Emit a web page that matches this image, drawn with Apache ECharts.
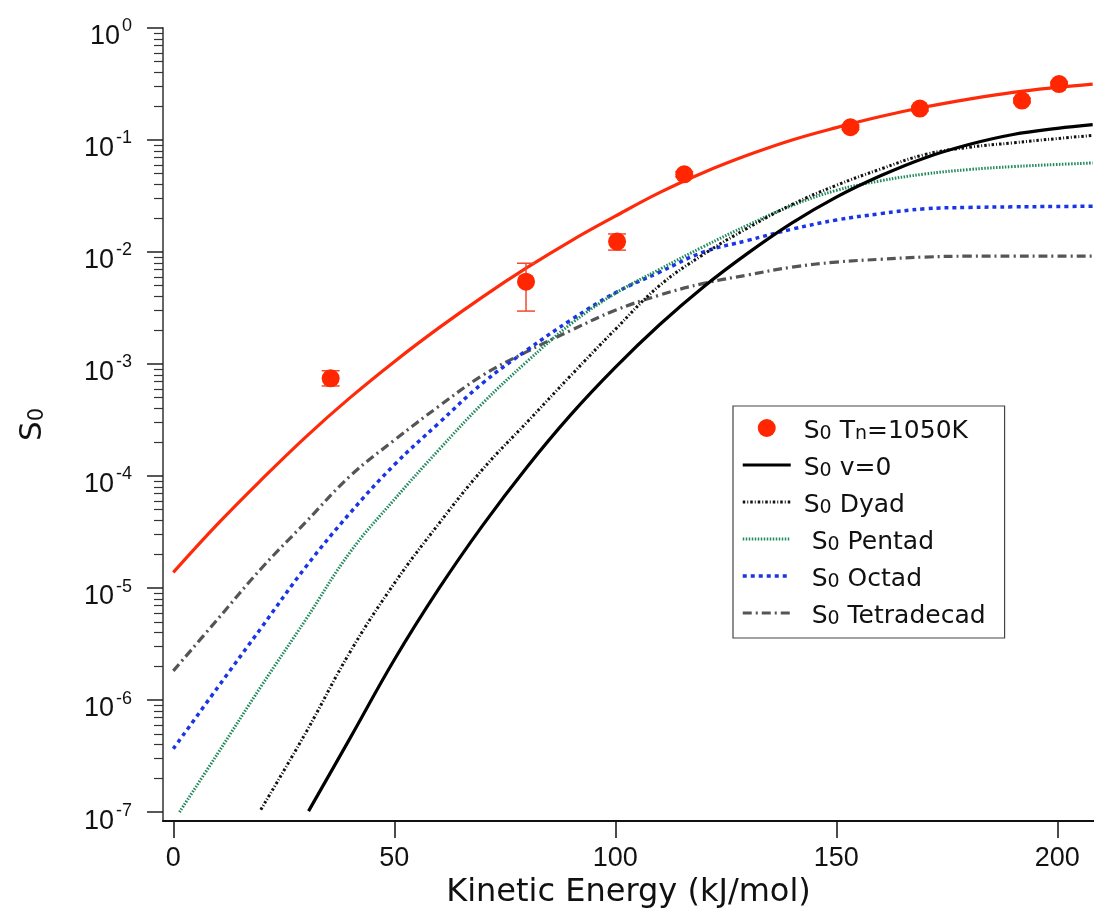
<!DOCTYPE html>
<html>
<head>
<meta charset="utf-8">
<title>S0 vs Kinetic Energy</title>
<script src="https://cdn.jsdelivr.net/npm/echarts@6/dist/echarts.min.js"></script>
<style>
  html, body { margin: 0; padding: 0; background: #fff; }
  #chart { width: 1094px; height: 919px; }
</style>
</head>
<body>
<div id="chart"></div>
<script>
// Data
var energyFull = [0, 10, 20, 30, 40, 50, 60, 70, 80, 90, 100, 110, 120, 130, 140, 150, 160, 170, 180, 190, 200, 208];
var energyPentad = [1.4, 10, 20, 30, 40, 50, 60, 70, 80, 90, 100, 110, 120, 130, 140, 150, 160, 170, 180, 190, 200, 208];
var energyDyad = [19.8, 30, 40, 50, 60, 70, 80, 90, 100, 110, 120, 130, 140, 150, 160, 170, 180, 190, 200, 208];
var energyV0 = [30.6, 40, 50, 60, 70, 80, 90, 100, 110, 120, 130, 140, 150, 160, 170, 180, 190, 200, 208];

var s0Fit = [1.38e-5, 3.72e-5, 9.33e-5, 2.24e-4, 5.01e-4, 1.05e-3, 2.09e-3, 3.98e-3, 7.24e-3, 1.26e-2, 2.09e-2,
  3.39e-2, 5.13e-2, 7.33e-2, 0.100, 0.129, 0.162, 0.197, 0.232, 0.266, 0.295, 0.316];
var s0V0 = [1.02e-7, 4.57e-7, 2.29e-6, 9.77e-6, 3.63e-5, 1.20e-4, 3.55e-4, 9.33e-4, 2.24e-3, 4.90e-3,
  9.77e-3, 1.82e-2, 3.09e-2, 4.79e-2, 6.92e-2, 9.12e-2, 0.112, 0.127, 0.137];
var s0Dyad = [1.05e-7, 5.13e-7, 2.69e-6, 1.10e-5, 3.72e-5, 1.15e-4, 3.02e-4, 7.94e-4, 2.04e-3, 5.01e-3,
  9.55e-3, 1.64e-2, 2.66e-2, 3.94e-2, 5.50e-2, 7.41e-2, 8.61e-2, 9.44e-2, 0.103, 0.110];
var s0Pentad = [1.0e-7, 3.31e-7, 1.35e-6, 5.25e-6, 2.09e-5, 6.17e-5, 1.70e-4, 4.47e-4, 1.05e-3, 2.29e-3, 4.27e-3,
  7.0e-3, 1.12e-2, 1.74e-2, 2.60e-2, 3.55e-2, 4.32e-2, 4.97e-2, 5.45e-2, 5.79e-2, 6.05e-2, 6.24e-2];
var s0Octad = [3.67e-7, 1.29e-6, 4.47e-6, 1.55e-5, 4.68e-5, 1.26e-4, 2.95e-4, 6.76e-4, 1.33e-3, 2.48e-3, 4.32e-3,
  6.61e-3, 1.0e-2, 1.27e-2, 1.60e-2, 1.93e-2, 2.20e-2, 2.43e-2, 2.50e-2, 2.53e-2, 2.55e-2, 2.56e-2];
var s0Tetradecad = [1.82e-6, 5.25e-6, 1.51e-5, 3.89e-5, 1.0e-4, 2.09e-4, 4.17e-4, 7.94e-4, 1.29e-3, 2.0e-3, 3.02e-3,
  4.12e-3, 5.25e-3, 6.24e-3, 7.33e-3, 8.13e-3, 8.61e-3, 9.02e-3, 9.18e-3, 9.20e-3, 9.20e-3, 9.20e-3];

// measured points, Tn = 1050 K
var energyExp = [35.6, 79.8, 100.4, 115.6, 153.2, 168.9, 192.0, 200.4];
var s0Exp = [7.45e-4, 5.43e-3, 1.24e-2, 4.94e-2, 0.130, 0.191, 0.225, 0.316];
var s0ErrLow = [6.37e-4, 2.97e-3, 1.04e-2, 4.7e-2, 0.124, 0.182, 0.215, 0.302];
var s0ErrHigh = [8.71e-4, 7.94e-3, 1.45e-2, 5.2e-2, 0.136, 0.200, 0.236, 0.330];

var xTicks = [0, 50, 100, 150, 200];
var yTicks = [1e-7, 1e-6, 1e-5, 1e-4, 1e-3, 1e-2, 1e-1, 1];

var FONT = 'DejaVu Sans';
var NUM_FONT = 'Liberation Sans';

function pairs(xs, ys) {
  return xs.map(function(x, i) { return [x, ys[i]]; });
}

// minor log ticks 2..9 of every decade
var yMinor = [];
yTicks.slice(0, -1).forEach(function(d) {
  for (var k = 2; k <= 9; k++) yMinor.push(+(d * k).toPrecision(3));
});

var legendText = {
  'S0 Tn=1050K': '{p|}{m|S}{s|0}{m| T}{s|n}{m|=1050K}',
  'S0 v=0': '{p|}{m|S}{s|0}{m| v=0}',
  'S0 Dyad': '{p|}{m|S}{s|0}{m| Dyad}',
  'S0 Pentad': '{p|}{m| S}{s|0}{m| Pentad}',
  'S0 Octad': '{p|}{m| S}{s|0}{m| Octad}',
  'S0 Tetradecad': '{p|}{m| S}{s|0}{m| Tetradecad}'
};

var chart = echarts.init(document.getElementById('chart'));

function lineSeries(name, xs, ys, style, z) {
  return {
    name: name,
    type: 'line',
    data: pairs(xs, ys),
    symbol: 'none',
    smooth: 0.4,
    z: z || 2,
    // transparent item colour keeps the legend icon a plain line
    itemStyle: { color: 'rgba(0,0,0,0)' },
    lineStyle: style
  };
}

chart.setOption({
  animation: false,
  backgroundColor: '#fff',
  textStyle: { fontFamily: FONT },
  grid: { left: 163, right: 0, top: 28, bottom: 98, containLabel: false },
  xAxis: {
    type: 'value',
    min: -2.33,
    max: 208.3,
    name: 'Kinetic Energy (kJ/mol)',
    nameLocation: 'middle',
    nameGap: 55,
    nameTextStyle: { fontFamily: FONT, fontSize: 32, color: '#111' },
    axisLine: { show: true, onZero: false, lineStyle: { color: '#111', width: 2 } },
    axisTick: { show: true, length: 17, customValues: xTicks, lineStyle: { color: '#111', width: 1.5 } },
    axisLabel: { customValues: xTicks, margin: 24, fontFamily: NUM_FONT, fontSize: 27, color: '#111' },
    splitLine: { show: false }
  },
  yAxis: [{
    type: 'log',
    logBase: 10,
    min: 8.32e-8,
    max: 1,
    name: '{m|S}{s|0}',
    nameLocation: 'middle',
    nameRotate: 90,
    nameGap: 115,
    nameTextStyle: {
      rich: {
        m: { fontFamily: FONT, fontSize: 31, color: '#111', lineHeight: 36, verticalAlign: 'bottom' },
        s: { fontFamily: FONT, fontSize: 21, color: '#111', lineHeight: 21, padding: [14, 0, 0, 0], verticalAlign: 'bottom' }
      }
    },
    axisLine: { show: true, onZero: false, lineStyle: { color: '#666', width: 2 } },
    axisTick: { show: true, length: 16, customValues: yTicks, lineStyle: { color: '#222', width: 1.5 } },
    axisLabel: {
      customValues: yTicks,
      margin: 31,
      padding: [18, 0, 0, 0],
      formatter: function(v) {
        var e = Math.round(Math.log(v) / Math.LN10);
        return '{b|10}{s|' + e + '}';
      },
      rich: {
        b: { fontFamily: NUM_FONT, fontSize: 27, color: '#111', lineHeight: 27, padding: [14, 0, 0, 0], verticalAlign: 'bottom' },
        s: { fontFamily: NUM_FONT, fontSize: 18, color: '#111', lineHeight: 18, padding: [0, 0, 15, 2], verticalAlign: 'bottom' }
      }
    },
    splitLine: { show: false },
    minorTick: { show: false }
  }, {
    // second axis only carries the minor ticks
    type: 'log',
    logBase: 10,
    min: 8.32e-8,
    max: 1,
    position: 'left',
    axisLine: { show: false, onZero: false },
    axisTick: { show: true, length: 9, customValues: yMinor, lineStyle: { color: '#333', width: 1.2 } },
    axisLabel: { show: false },
    splitLine: { show: false }
  }],
  legend: {
    data: ['S0 Tn=1050K', 'S0 v=0', 'S0 Dyad', 'S0 Pentad', 'S0 Octad', 'S0 Tetradecad'],
    orient: 'vertical',
    left: 733,
    top: 406,
    itemWidth: 48,
    itemHeight: 18,
    itemGap: 5,
    padding: [6, 19, 9, 8],
    borderColor: '#444',
    borderWidth: 1.2,
    selectedMode: false,
    lineStyle: { width: 'inherit' },
    formatter: function(name) { return legendText[name]; },
    textStyle: {
      rich: {
        p: { width: 8 },
        m: { fontFamily: FONT, fontSize: 25, color: '#111', lineHeight: 32, verticalAlign: 'bottom' },
        s: { fontFamily: FONT, fontSize: 19, color: '#111', lineHeight: 19, padding: [13, 0, 0, 0], verticalAlign: 'bottom' }
      }
    }
  },
  series: [
    lineSeries('S0 Tetradecad', energyFull, s0Tetradecad, { color: '#555', width: 3.2, type: [9, 4, 2, 4] }),
    lineSeries('S0 Octad', energyFull, s0Octad, { color: '#1a35e6', width: 3.5, type: [4, 4] }),
    lineSeries('S0 Pentad', energyPentad, s0Pentad, { color: '#1f8a5a', width: 3, type: [1.5, 1.5] }),
    lineSeries('S0 Dyad', energyDyad, s0Dyad, { color: '#111', width: 3, type: [2.5, 2, 1, 2] }),
    lineSeries('S0 v=0', energyV0, s0V0, { color: '#000', width: 3.2 }),
    lineSeries('fit', energyFull, s0Fit, { color: '#ff2a0a', width: 3.2 }, 3),
    {
      name: 'err',
      type: 'custom',
      z: 4,
      data: energyExp.map(function(x, i) { return [x, s0ErrLow[i], s0ErrHigh[i]]; }),
      encode: { x: 0, y: [1, 2] },
      renderItem: function(params, api) {
        var x = api.value(0);
        var lo = api.coord([x, api.value(1)]);
        var hi = api.coord([x, api.value(2)]);
        var w = 9;
        var st = { stroke: '#f04a30', lineWidth: 1.5 };
        return {
          type: 'group',
          children: [
            { type: 'line', shape: { x1: lo[0], y1: lo[1], x2: hi[0], y2: hi[1] }, style: st },
            { type: 'line', shape: { x1: lo[0] - w, y1: lo[1], x2: lo[0] + w, y2: lo[1] }, style: st },
            { type: 'line', shape: { x1: hi[0] - w, y1: hi[1], x2: hi[0] + w, y2: hi[1] }, style: st }
          ]
        };
      }
    },
    {
      name: 'S0 Tn=1050K',
      type: 'scatter',
      z: 5,
      data: pairs(energyExp, s0Exp),
      symbol: 'circle',
      symbolSize: 18,
      itemStyle: { color: '#ff2600', opacity: 1 }
    }
  ]
});
</script>
</body>
</html>
